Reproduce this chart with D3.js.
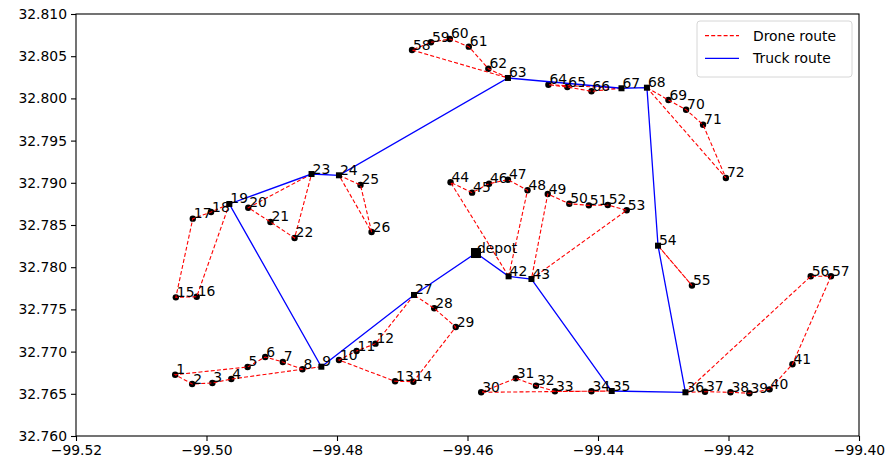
<!DOCTYPE html>
<html>
<head>
<meta charset="utf-8">
<script src="https://cdn.jsdelivr.net/npm/d3@7/dist/d3.min.js"></script>
<style>
  body { margin: 0; background: #fff; }
  svg { font-family: "DejaVu Sans", sans-serif; }
</style>
</head>
<body>
<div id="wrapper"></div>
<script>
// node ids and coordinates (lon, lat)
const nodeIds = ["depot", 1, 2, 3, 4, 5, 6, 7, 8, 9, 10, 11, 12, 13, 14, 15, 16, 17, 18, 19, 20,
  21, 22, 23, 24, 25, 26, 27, 28, 29, 30, 31, 32, 33, 34, 35, 36, 37, 38, 39, 40,
  41, 42, 43, 44, 45, 46, 47, 48, 49, 50, 51, 52, 53, 54, 55, 56, 57, 58, 59, 60,
  61, 62, 63, 64, 65, 66, 67, 68, 69, 70, 71, 72]
const nodeLon = [-99.4587, -99.5048, -99.5022, -99.4991, -99.4962, -99.4937, -99.4910, -99.4883, -99.4853, -99.4824, -99.4797,
  -99.4770, -99.4741, -99.4711, -99.4683, -99.5047, -99.5015, -99.5021, -99.4993, -99.4965, -99.4936,
  -99.4902, -99.4865, -99.4839, -99.4797, -99.4764, -99.4747, -99.4682, -99.4651, -99.4618, -99.4579,
  -99.4526, -99.4495, -99.4466, -99.4410, -99.4379, -99.4266, -99.4236, -99.4197, -99.4168, -99.4137,
  -99.4102, -99.4537, -99.4502, -99.4626, -99.4593, -99.4567, -99.4538, -99.4508, -99.4477, -99.4444,
  -99.4414, -99.4385, -99.4356, -99.4308, -99.4256, -99.4074, -99.4043, -99.4685, -99.4656, -99.4627,
  -99.4598, -99.4568, -99.4538, -99.4476, -99.4447, -99.4410, -99.4364, -99.4325, -99.4292, -99.4265,
  -99.4239, -99.4204]
const nodeLat = [32.78168, 32.76726, 32.76616, 32.76628, 32.76675, 32.76818, 32.76936, 32.76877, 32.76790, 32.76821, 32.76900,
  32.77007, 32.77094, 32.76648, 32.76643, 32.77643, 32.77650, 32.78575, 32.78654, 32.78749, 32.78705,
  32.78536, 32.78346, 32.79104, 32.79089, 32.78974, 32.78417, 32.77671, 32.77513, 32.77291, 32.76518,
  32.76684, 32.76596, 32.76530, 32.76530, 32.76533, 32.76518, 32.76525, 32.76518, 32.76506, 32.76553,
  32.76850, 32.77892, 32.77860, 32.79006, 32.78883, 32.78989, 32.79037, 32.78911, 32.78867, 32.78752,
  32.78733, 32.78737, 32.78674, 32.78255, 32.77783, 32.77892, 32.77892, 32.80573, 32.80665, 32.80704,
  32.80613, 32.80352, 32.80242, 32.80162, 32.80135, 32.80084, 32.80120, 32.80127, 32.79981, 32.79866,
  32.79688, 32.79057]

// truck tour
const truckRoute = ["depot", 27, 9, 19, 23, 24, 63, 67, 68, 54, 36, 35, 43, 42, "depot"]

// drone sorties
const droneRoutes = [
  [9, 8, 7, 6, 5, 1, 2, 3, 4, 9],
  [27, 12, 11, 10, 13, 14, 29, 28, 27],
  [19, 18, 17, 15, 16, 19],
  [23, 20, 21, 22, 23],
  [24, 25, 26, 24],
  [63, 62, 61, 60, 59, 58, 63],
  [67, 66, 65, 64, 67],
  [68, 69, 70, 71, 72, 68],
  [54, 55, 54],
  [43, 53, 52, 51, 50, 49, 43],
  [42, 48, 47, 46, 45, 44, 42],
  [35, 34, 33, 32, 31, 30, 35],
  [36, 37, 38, 39, 40, 41, 57, 56, 36]
]

const xTicks = [-99.52, -99.50, -99.48, -99.46, -99.44, -99.42, -99.40]
const yTicks = [32.760, 32.765, 32.770, 32.775, 32.780, 32.785, 32.790, 32.795, 32.800, 32.805, 32.810]

const legendLabels = ["Drone route", "Truck route"]

let dimensions = {
  width: 889,
  height: 465,
  margin: { top: 14, right: 30, bottom: 29, left: 76 }
}
dimensions.boundedWidth = dimensions.width - dimensions.margin.left - dimensions.margin.right
dimensions.boundedHeight = dimensions.height - dimensions.margin.top - dimensions.margin.bottom

const nodes = nodeIds.map((id, i) => ({ id, lon: nodeLon[i], lat: nodeLat[i] }))
const byId = new Map(nodes.map(d => [d.id, d]))

const xScale = d3.scaleLinear().domain([-99.52, -99.40]).range([0, dimensions.boundedWidth])
const yScale = d3.scaleLinear().domain([32.760, 32.810]).range([dimensions.boundedHeight, 0])

const wrapper = d3.select('#wrapper').append('svg')
  .attr('width', dimensions.width)
  .attr('height', dimensions.height)

const bounds = wrapper.append('g')
  .attr('transform', `translate(${dimensions.margin.left},${dimensions.margin.top})`)

const line = d3.line()
  .x(id => xScale(byId.get(id).lon))
  .y(id => yScale(byId.get(id).lat))

const truckStops = new Set(truckRoute)

// customer dots
bounds.selectAll('.customer')
  .data(nodes.filter(d => !truckStops.has(d.id)))
  .enter().append('circle')
  .attr('cx', d => xScale(d.lon))
  .attr('cy', d => yScale(d.lat))
  .attr('r', 3.2)
  .attr('fill', 'black')

// drone routes
bounds.selectAll('.drone')
  .data(droneRoutes)
  .enter().append('path')
  .attr('d', line)
  .attr('fill', 'none')
  .attr('stroke', 'red')
  .attr('stroke-width', 1.1)
  .attr('stroke-dasharray', '4,2.2')

// truck route
bounds.append('path')
  .attr('d', line(truckRoute))
  .attr('fill', 'none')
  .attr('stroke', 'blue')
  .attr('stroke-width', 1.3)

// truck stops as squares
bounds.selectAll('.stop')
  .data(nodes.filter(d => truckStops.has(d.id)))
  .enter().append('rect')
  .attr('x', d => xScale(d.lon) - (d.id === "depot" ? 5 : 3))
  .attr('y', d => yScale(d.lat) - (d.id === "depot" ? 5 : 3))
  .attr('width', d => d.id === "depot" ? 10 : 6)
  .attr('height', d => d.id === "depot" ? 10 : 6)
  .attr('fill', 'black')

// labels
bounds.selectAll('.label')
  .data(nodes)
  .enter().append('text')
  .attr('x', d => xScale(d.lon) + 1)
  .attr('y', d => yScale(d.lat) - 0.5)
  .attr('font-size', 13.9)
  .attr('fill', 'black')
  .text(d => d.id)

// axes
const fmtX = d => d3.format(".2f")(d).replace("-", "\u2212")
const xAxis = d3.axisBottom(xScale).tickValues(xTicks).tickFormat(fmtX).tickSize(5).tickPadding(4)
const yAxis = d3.axisLeft(yScale).tickValues(yTicks).tickFormat(d3.format(".3f")).tickSize(5).tickPadding(4)

const xg = bounds.append('g')
  .attr('transform', `translate(0,${dimensions.boundedHeight})`)
  .call(xAxis)
const yg = bounds.append('g').call(yAxis)
;[xg, yg].forEach(g => {
  g.select('.domain').remove()
  g.selectAll('line').attr('stroke', 'black').attr('stroke-width', 1.1)
  g.selectAll('text').attr('font-size', 13.9).attr('fill', 'black')
    .attr('font-family', '"DejaVu Sans", sans-serif')
})

// frame
bounds.append('rect')
  .attr('width', dimensions.boundedWidth)
  .attr('height', dimensions.boundedHeight)
  .attr('fill', 'none')
  .attr('stroke', 'black')
  .attr('stroke-width', 1.1)

// legend
const legend = wrapper.append('g').attr('transform', 'translate(697,21)')
legend.append('rect')
  .attr('width', 155).attr('height', 56)
  .attr('rx', 3)
  .attr('fill', 'white').attr('fill-opacity', 0.8)
  .attr('stroke', '#d6d6d6')
const legendStyles = [
  { color: 'red', dash: '4,2.2' },
  { color: 'blue', dash: null }
]
legendLabels.forEach((label, i) => {
  const y = 14.7 + i * 22.6
  legend.append('line')
    .attr('x1', 8).attr('x2', 42).attr('y1', y).attr('y2', y)
    .attr('stroke', legendStyles[i].color)
    .attr('stroke-width', 1.3)
    .attr('stroke-dasharray', legendStyles[i].dash)
  legend.append('text')
    .attr('x', 56).attr('y', y + 5)
    .attr('font-size', 13.9)
    .text(label)
})
</script>
</body>
</html>
